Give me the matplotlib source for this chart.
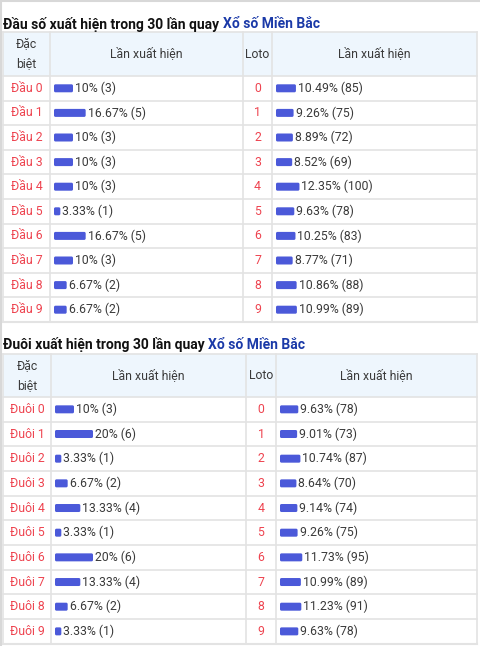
import matplotlib
matplotlib.use("Agg")
import matplotlib.pyplot as plt
from matplotlib.patches import Rectangle, FancyBboxPatch

plt.rcParams['font.family'] = ['Roboto', 'DejaVu Sans']

# data
dau_labels = ["Đầu %d" % i for i in range(10)]
dau_pct = [10, 16.67, 10, 10, 10, 3.33, 16.67, 10, 6.67, 6.67]
dau_cnt = [3, 5, 3, 3, 3, 1, 5, 3, 2, 2]
dau_loto_pct = [10.49, 9.26, 8.89, 8.52, 12.35, 9.63, 10.25, 8.77, 10.86, 10.99]
dau_loto_cnt = [85, 75, 72, 69, 100, 78, 83, 71, 88, 89]

duoi_labels = ["Đuôi %d" % i for i in range(10)]
duoi_pct = [10, 20, 3.33, 6.67, 13.33, 3.33, 20, 13.33, 6.67, 3.33]
duoi_cnt = [3, 6, 1, 2, 4, 1, 6, 4, 2, 1]
duoi_loto_pct = [9.63, 9.01, 10.74, 8.64, 9.14, 9.26, 11.73, 10.99, 11.23, 9.63]
duoi_loto_cnt = [78, 73, 87, 70, 74, 75, 95, 89, 91, 78]

loto_nums = [str(i) for i in range(10)]

RED = "#ee4450"
BLUE = "#4b59d9"
LINK = "#1b3aa8"
TXT = "#3a3a3a"
GRID = "#e3e3e3"
HEAD = "#eef6fd"
PX = 1.9  # px per percent
FS = 8.8

fig = plt.figure(figsize=(4.8, 6.46), dpi=100)
ax = fig.add_axes([0, 0, 1, 1])
ax.set_xlim(0, 480)
ax.set_ylim(646, 0)
ax.axis("off")

# screenshot frame
ax.plot([0.5, 480], [0.8, 0.8], color="#d8d8d8", lw=1.5)
ax.plot([0.8, 0.8], [0, 646], color="#d8d8d8", lw=1.5)


def table(title_y, top, hbot, rh, cols, labels, pct, cnt, lpct, lcnt, prefix):
    t = ax.text(3, title_y, prefix + " xuất hiện trong 30 lần quay ", fontsize=10,
                fontweight="bold", color="#111111", va="center", ha="left")
    fig.canvas.draw()
    bb = t.get_window_extent().transformed(ax.transData.inverted())
    ax.text(bb.x1, title_y, "Xổ số Miền Bắc", fontsize=10, fontweight="bold",
            color=LINK, va="center", ha="left")

    x0, c1, c2, c3, x1 = cols
    bottom = hbot + rh * len(labels)
    ax.add_patch(Rectangle((x0, top), x1 - x0, hbot - top, facecolor=HEAD, edgecolor="none"))
    # header text
    hy = (top + hbot) / 2
    ax.text((x0 + c1) / 2, hy - 10, "Đặc", fontsize=FS, color=TXT, ha="center", va="center")
    ax.text((x0 + c1) / 2, hy + 10, "biệt", fontsize=FS, color=TXT, ha="center", va="center")
    ax.text((c1 + c2) / 2, hy, "Lần xuất hiện", fontsize=FS, color=TXT, ha="center", va="center")
    ax.text((c2 + c3) / 2, hy, "Loto", fontsize=FS, color=TXT, ha="center", va="center")
    ax.text((c3 + x1) / 2, hy, "Lần xuất hiện", fontsize=FS, color=TXT, ha="center", va="center")

    # grid
    for x in cols:
        ax.plot([x, x], [top, bottom], color=GRID, lw=1.2)
    ax.plot([x0, x1], [top, top], color=GRID, lw=1.2)
    ax.plot([x0, x1], [hbot, hbot], color=GRID, lw=1.2)
    for i in range(len(labels)):
        yb = hbot + rh * (i + 1)
        ax.plot([x0, x1], [yb, yb], color=GRID, lw=1.2 if i < len(labels) - 1 else 1.5)

    for i, lab in enumerate(labels):
        cy = hbot + rh * (i + 0.5)
        ax.text((x0 + c1) / 2, cy, lab, fontsize=FS, color=RED, ha="center", va="center")
        ax.text((c2 + c3) / 2, cy, loto_nums[i], fontsize=FS, color=RED, ha="center", va="center")
        for bx, p, n in ((c1 + 4, pct[i], cnt[i]), (c3 + 4, lpct[i], lcnt[i])):
            w = p * PX
            ax.add_patch(FancyBboxPatch((bx + 1, cy - 3), w - 2, 6,
                                        boxstyle="round,pad=1,rounding_size=1.5",
                                        facecolor=BLUE, edgecolor="none"))
            ax.text(bx + w + 2, cy, "%s%% (%d)" % (format(p, "g"), n), fontsize=FS,
                    color=TXT, ha="left", va="center")


table(24, 32, 76, 24.6, [3, 50, 243, 272, 477], dau_labels, dau_pct, dau_cnt,
      dau_loto_pct, dau_loto_cnt, "Đầu số")
table(345, 354, 397, 24.67, [3, 51, 246, 276, 477], duoi_labels, duoi_pct, duoi_cnt,
      duoi_loto_pct, duoi_loto_cnt, "Đuôi")

fig.savefig("out.png", dpi=100, facecolor="white")
